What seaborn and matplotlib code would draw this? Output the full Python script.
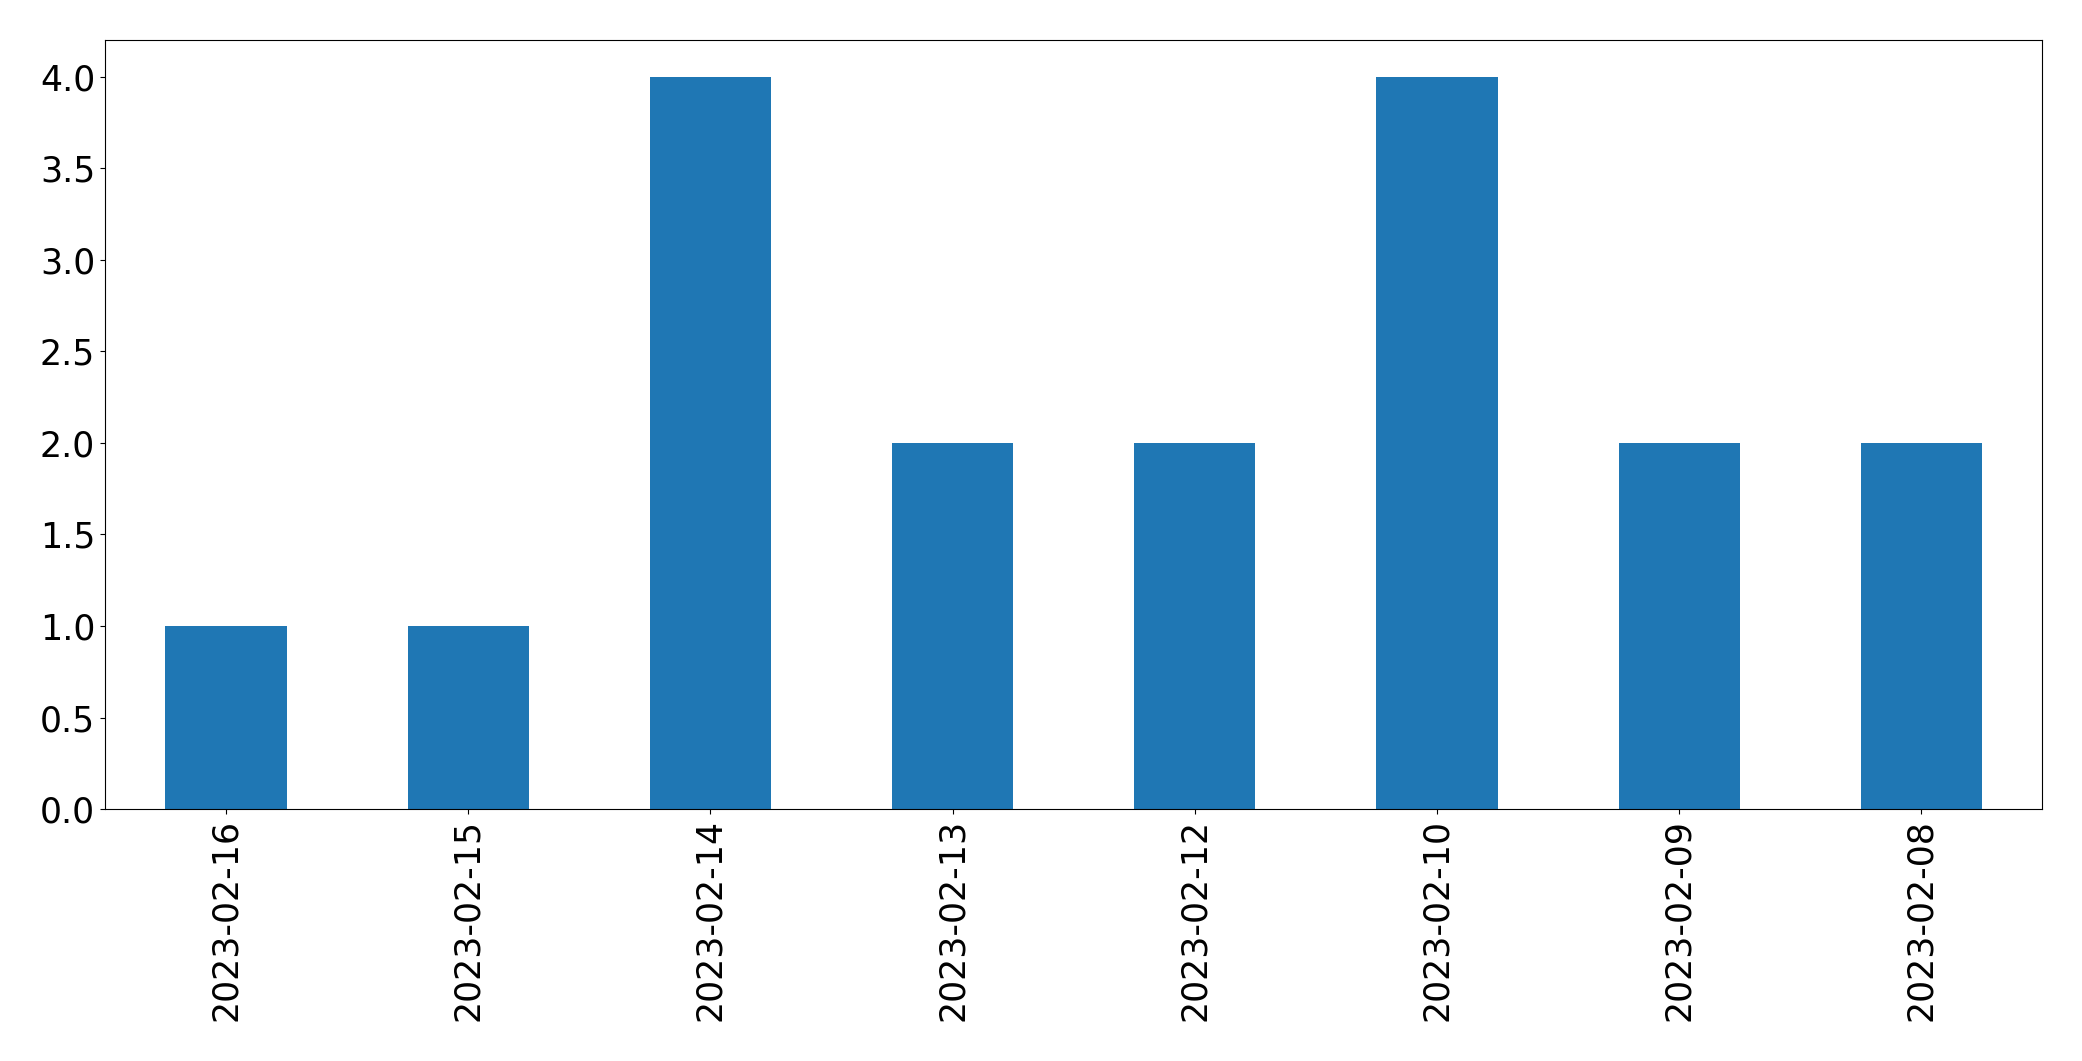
import pandas as pd
import matplotlib
matplotlib.use('Agg')
import matplotlib.pyplot as plt
import seaborn as sns

# Data
dates = ['2023-02-16', '2023-02-15', '2023-02-14', '2023-02-13',
         '2023-02-12', '2023-02-10', '2023-02-09', '2023-02-08']
counts = [1, 1, 4, 2, 2, 4, 2, 2]

df = pd.DataFrame({'date': dates, 'count': counts})

plt.rcParams['font.family'] = ['DejaVu Sans']
plt.rcParams['font.size'] = 25
plt.rcParams['axes.edgecolor'] = 'black'

fig, ax = plt.subplots(figsize=(20.82, 10.61), dpi=100)
fig.subplots_adjust(left=0.0504, right=0.981, top=0.962, bottom=0.2375)

sns.barplot(x='date', y='count', data=df, order=dates, color='#1f77b4',
            saturation=1, width=0.5, ax=ax)

ax.set_xlim(-0.5, len(dates) - 0.5)
ax.set_ylim(0, 4.2)
ax.set_xlabel('')
ax.set_ylabel('')
ax.tick_params(axis='x', labelrotation=90, labelsize=25)
ax.tick_params(axis='y', labelsize=25)

plt.savefig('out.png', dpi=100)
